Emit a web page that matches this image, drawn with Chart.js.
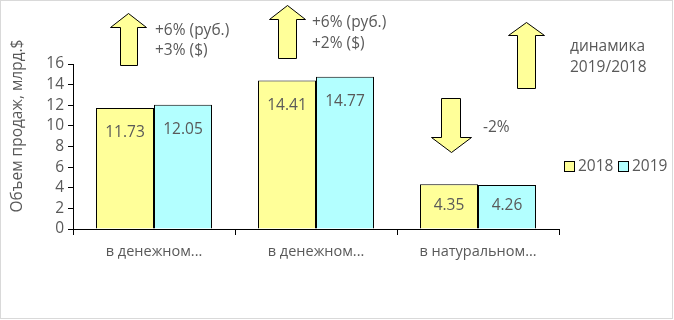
<!DOCTYPE html>
<html>
<head>
<meta charset="utf-8">
<script src="https://cdn.jsdelivr.net/npm/chart.js@4/dist/chart.umd.min.js"></script>
<style>
  html, body { margin: 0; padding: 0; background: #fff; }
  #wrap { width: 674px; height: 320px; position: relative; }
</style>
</head>
<body>
<div id="wrap"><canvas id="myChart" width="674" height="320"></canvas></div>
<script>
// data
var categories = ['в денежном...', 'в денежном...', 'в натуральном...'];
var years = ['2018', '2019'];
var sales2018 = [11.73, 14.41, 4.35];
var sales2019 = [12.05, 14.77, 4.26];
var yTicks = [0, 2, 4, 6, 8, 10, 12, 14, 16];
var yTitle = 'Объем продаж, млрд.$';

var textColor = '#595959';
var fontFamily = '"Open Sans", "DejaVu Sans", sans-serif';

// value labels inside the bars
var barLabels = {
    id: 'barLabels',
    afterDatasetsDraw: function(chart)
    {
        var ctx = chart.ctx;
        ctx.save();
        ctx.font = '15.5px ' + fontFamily;
        ctx.fillStyle = textColor;
        ctx.textAlign = 'center';
        ctx.textBaseline = 'middle';
        chart.data.datasets.forEach(function(ds, i) {
            chart.getDatasetMeta(i).data.forEach(function(bar, j) {
                var y = Math.min(bar.y + 25, (bar.y + bar.base) / 2 - 1);
                ctx.fillText(ds.data[j].toFixed(2), bar.x, y);
            });
        });
        ctx.restore();
    }
};

function arrow(ctx, x1, x2, hx1, hx2, top, headBase, bottom, down)
{
    ctx.beginPath();
    if (!down) {
        ctx.moveTo((hx1 + hx2) / 2, top);
        ctx.lineTo(hx2, headBase);
        ctx.lineTo(x2, headBase);
        ctx.lineTo(x2, bottom);
        ctx.lineTo(x1, bottom);
        ctx.lineTo(x1, headBase);
        ctx.lineTo(hx1, headBase);
    } else {
        ctx.moveTo(x1, top);
        ctx.lineTo(x2, top);
        ctx.lineTo(x2, headBase);
        ctx.lineTo(hx2, headBase);
        ctx.lineTo((hx1 + hx2) / 2, bottom);
        ctx.lineTo(hx1, headBase);
        ctx.lineTo(x1, headBase);
    }
    ctx.closePath();
    ctx.fillStyle = '#ffff99';
    ctx.fill();
    ctx.lineWidth = 1;
    ctx.strokeStyle = '#000';
    ctx.stroke();
}

// arrows, notes, legend, axis title and frame
var extras = {
    id: 'extras',
    afterDraw: function(chart)
    {
        var ctx = chart.ctx;
        ctx.save();

        arrow(ctx, 120.5, 137.5, 110.5, 146.5, 13.5, 27.5, 65.5, false);
        arrow(ctx, 278.5, 296.5, 269.5, 305.5, 5.5, 19.5, 58.5, false);
        arrow(ctx, 517.5, 535.5, 508.5, 544.5, 22.5, 35.5, 88.5, false);
        arrow(ctx, 441.5, 460.5, 431.5, 471.5, 98.5, 137.5, 152.5, true);

        ctx.fillStyle = textColor;
        ctx.font = '15.5px ' + fontFamily;
        ctx.textAlign = 'left';
        ctx.textBaseline = 'middle';
        ctx.fillText('+6% (руб.)', 155, 31);
        ctx.fillText('+3% ($)', 155, 51);
        ctx.fillText('+6% (руб.)', 312, 23);
        ctx.fillText('+2% ($)', 312, 44);
        ctx.fillText('-2%', 483, 128);
        ctx.fillText('динамика', 570, 47);
        ctx.fillText('2019/2018', 570, 68);

        // legend
        var lx = 564;
        chart.data.datasets.forEach(function(ds) {
            ctx.fillStyle = ds.backgroundColor;
            ctx.fillRect(lx + 0.5, 161.5, 10, 10);
            ctx.strokeStyle = '#000';
            ctx.strokeRect(lx + 0.5, 161.5, 10, 10);
            ctx.fillStyle = textColor;
            ctx.fillText(ds.label, lx + 14, 167);
            lx += 54;
        });

        // y axis title
        ctx.translate(18, 126);
        ctx.rotate(-Math.PI / 2);
        ctx.textAlign = 'center';
        ctx.font = '15.5px ' + fontFamily;
        ctx.fillText(yTitle, 0, 0);
        ctx.setTransform(1, 0, 0, 1, 0, 0);

        ctx.strokeStyle = '#d9d9d9';
        ctx.strokeRect(0.5, 0.5, 672, 318);
        ctx.restore();
    }
};

var ctx = document.getElementById('myChart');
var myChart = new Chart(ctx, {
    type: 'bar',
    data: {
        labels: categories,
        datasets: [{
            label: years[0],
            data: sales2018,
            backgroundColor: '#ffff99',
            borderColor: '#000',
            borderWidth: 1
        }, {
            label: years[1],
            data: sales2019,
            backgroundColor: '#b3ffff',
            borderColor: '#000',
            borderWidth: 1
        }]
    },
    options: {
        responsive: false,
        animation: false,
        events: [],
        categoryPercentage: 0.716,
        barPercentage: 1,
        layout: {
            padding: { left: 0, top: 64, right: 115, bottom: 50 }
        },
        plugins: {
            legend: { display: false },
            tooltip: { enabled: false }
        },
        scales: {
            x: {
                grid: {
                    offset: true,
                    drawOnChartArea: false,
                    drawTicks: true,
                    tickLength: 6,
                    color: '#000'
                },
                border: { color: '#000', width: 1 },
                ticks: {
                    color: textColor,
                    font: { size: 14.5, family: fontFamily },
                    padding: 8,
                    maxRotation: 0,
                    autoSkip: false
                },
                afterFit: function(scale) { scale.height = 41; }
            },
            y: {
                min: 0,
                max: 16,
                afterBuildTicks: function(scale) {
                    scale.ticks = yTicks.map(function(v) { return { value: v }; });
                },
                grid: {
                    drawOnChartArea: false,
                    drawTicks: true,
                    tickLength: 5,
                    color: '#000'
                },
                border: { color: '#000', width: 1 },
                ticks: {
                    color: textColor,
                    font: { size: 15.5, family: fontFamily },
                    padding: 4,
                    autoSkip: false
                },
                afterFit: function(scale) { scale.width = 73; }
            }
        }
    },
    plugins: [barLabels, extras]
});
</script>
</body>
</html>
